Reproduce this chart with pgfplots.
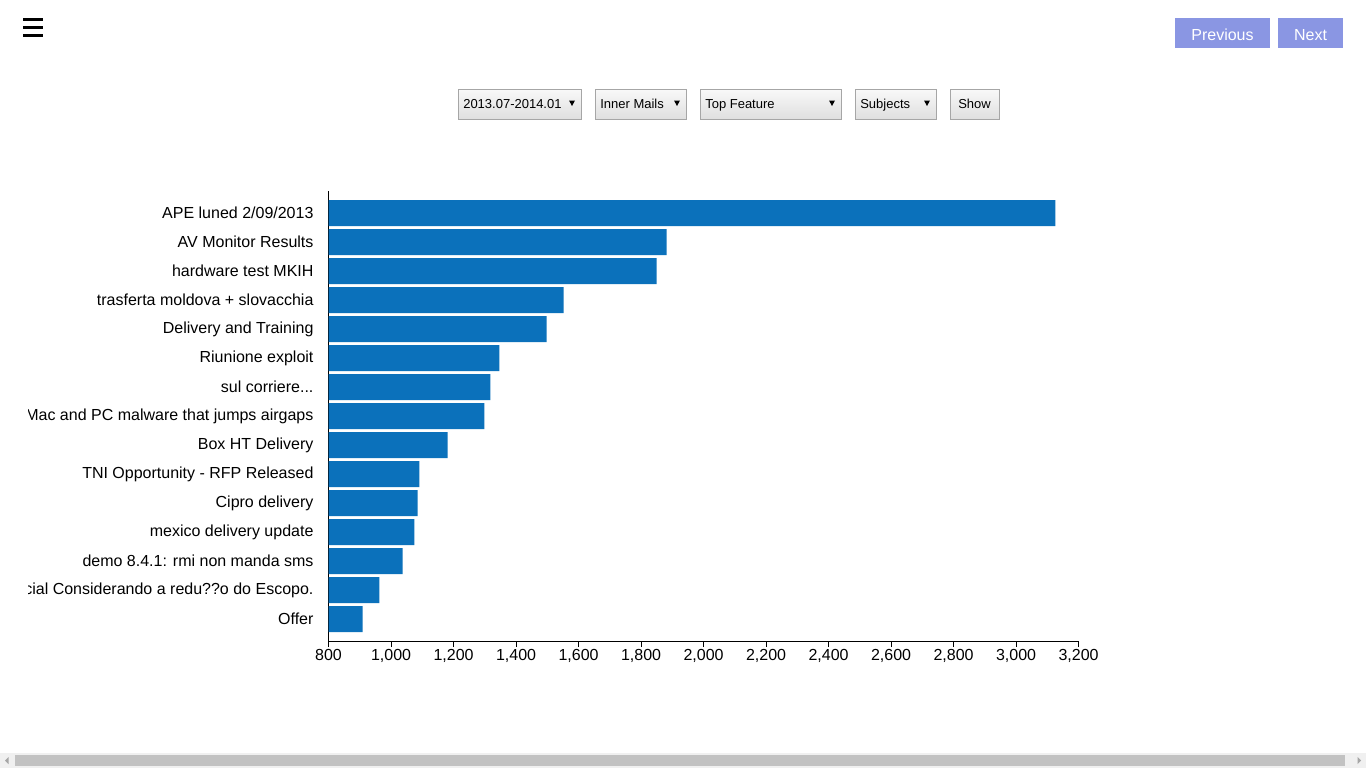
\documentclass[border=0pt]{standalone}
\usepackage{fontspec}
\setmainfont{Liberation Sans}
\usepackage{pgfplots}
\pgfplotsset{compat=1.18}
\definecolor{barblue}{HTML}{0B71BB}
\definecolor{btnblue}{HTML}{8A96E3}
\definecolor{selborder}{HTML}{A6A6A6}
\begin{document}
\begin{tikzpicture}
% page frame 1366x768 px, 1px = 0.75pt
\begin{scope}[x=0.75pt,y=-0.75pt]
\useasboundingbox (0,0) rectangle (1366,768);
\fill[white] (0,0) rectangle (1366,768);
% hamburger
\foreach \yy in {19.5,27.5,35.5}
  \draw[black, line width=2.2*0.75pt] (23,\yy) -- (42.5,\yy);
% buttons
\fill[btnblue] (1175,18) rectangle (1270,48);
\node[text=white, anchor=base, inner sep=0pt, font=\fontsize{12pt}{14pt}\selectfont] at (1222.5,40) {Previous};
\fill[btnblue] (1278,18) rectangle (1343,48);
\node[text=white, anchor=base, inner sep=0pt, font=\fontsize{12pt}{14pt}\selectfont] at (1310.5,40) {Next};
% selects
\foreach \xa/\xb/\txt/\arr in {458/581/{2013.07-2014.01}/1, 595/686/{Inner Mails}/1, 700/841/{Top Feature}/1, 855/936/{Subjects}/1, 950/999/{Show}/0}{
  \shade[top color=gray!5, bottom color=gray!25, draw=selborder, line width=0.75pt] (\xa,89) rectangle (\xb,119);
  \ifnum\arr=1
    \node[anchor=base west, inner sep=0pt, font=\fontsize{9.75pt}{11pt}\selectfont] at (\xa+5,108.5) {\txt};
    \fill[black] (\xb-12,100.5) -- (\xb-6,100.5) -- (\xb-9,106) -- cycle;
  \else
    \node[anchor=base, inner sep=0pt, font=\fontsize{9.75pt}{11pt}\selectfont] at ({(\xa+\xb)/2},108.5) {\txt};
  \fi
}
% scrollbar
\fill[gray!12] (0,753) rectangle (1366,768);
\fill[gray!48] (15,755) rectangle (1345,766);
\fill[gray!70] (8.5,757) -- (8.5,764) -- (5,760.5) -- cycle;
\fill[gray!70] (1357.5,757) -- (1357.5,764) -- (1361,760.5) -- cycle;
\end{scope}
\begin{scope}
\clip (21pt,0pt) rectangle (1024.5pt,-576pt);
\begin{axis}[
  at={(246.4pt,-480.75pt)}, anchor=south west,
  scale only axis, width=562.5pt, height=337.5pt,
  xbar, bar width=19.5pt,
  xmin=800, xmax=3200,
  ymin=-0.759, ymax=14.759, y dir=reverse,
  axis x line*=bottom, axis y line*=left,
  axis line style={black, line width=0.75pt},
  xtick={800,1000,...,3200},
  tick align=outside,
  major tick length=4.5pt,
  x tick style={black, line width=0.75pt},
  ytick={0,1,2,3,4,5,6,7,8,9,10,11,12,13,14},
  y tick style={draw=none},
  major y tick style={draw=none},
  yticklabels={{APE luned 2/09/2013}, {AV Monitor Results}, {hardware test MKIH}, {trasferta moldova + slovacchia}, {Delivery and Training}, {Riunione exploit}, {sul corriere{.}{.}{.}}, {the mysterious Mac and PC malware that jumps airgaps}, {Box HT Delivery}, {TNI Opportunity - RFP Released}, {Cipro delivery}, {mexico delivery update}, {demo 8.4.1: rmi non manda sms}, {Proposta Comercial Considerando a redu??o do Escopo.}, {Offer}},
  tick label style={font=\fontsize{12pt}{14pt}\selectfont},
  yticklabel style={inner sep=0pt, xshift=-6.6pt},
  xticklabel style={inner sep=0pt, yshift=-1.6pt},
  /pgf/number format/assume math mode=true,
  /pgf/number format/1000 sep={,},
  scaled x ticks=false,
]
\addplot[fill=barblue, draw=none] coordinates {
(3126,0) (1882,1) (1850,2) (1552,3) (1498,4) (1347,5) (1318,6) (1299,7) (1181,8) (1091,9) (1085,10) (1075,11) (1037,12) (963,13) (909,14)
};
\end{axis}
\end{scope}
\end{tikzpicture}
\end{document}
